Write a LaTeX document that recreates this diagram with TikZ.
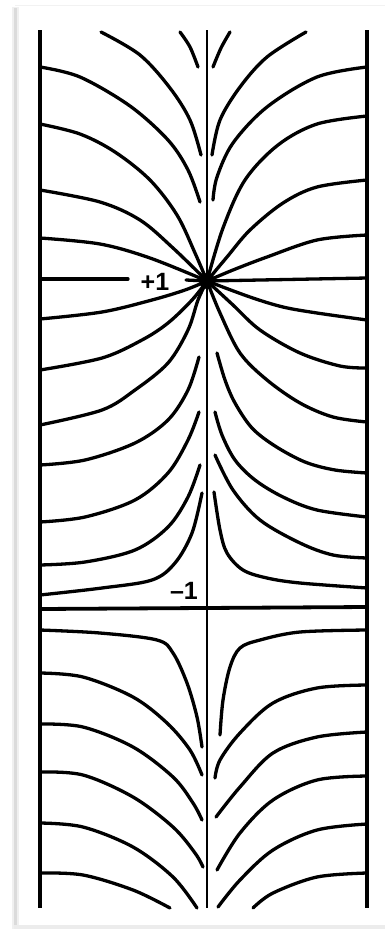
\documentclass[tikz,border=0pt]{standalone}
\usepackage{fontspec}
\setsansfont{Liberation Sans}
\begin{document}
\begin{tikzpicture}[x=1pt,y=-1pt,
  fl/.style={line width=3.3pt, line cap=round, line join=round},
  frame/.style={line width=3.4pt},
  axis/.style={line width=2.6pt},
  lab/.style={font=\sffamily\bfseries\fontsize{25}{25}\selectfont, inner sep=0pt, anchor=base}]
\useasboundingbox (0,0) rectangle (385,930);
\fill[white] (0,0) rectangle (385,930);
% page shadow
\fill[gray!12] (12,7) rectangle (19,929);
\fill[gray!28] (14,8) rectangle (17,928);
\fill[gray!15] (14,925) rectangle (385,929);
\draw[gray!10, line width=0.6pt] (15,5) -- (385,5);
% frame
\draw[frame] (40,30) -- (40,908);
\draw[frame] (367,30) -- (367,908);
\draw[axis] (207,30) -- (207,908);
\coordinate (q) at (207,281);
% horizontal line through +1
\draw[fl] (40,279) -- (128,279);
\draw[fl] (186,280) -- (q);
\draw[fl] (q) -- (367,278);
% -1 line
\draw[line width=3.8pt] (40,609) -- (367,607);
\node[lab] (p1) at (155,290) {+1};
\node[lab] (m1) at (184,599) {\char"2013 1};
% top-left
\draw[fl] plot[smooth,tension=0.55] coordinates {(101,32) (140,55) (170,88) (190,120) (201,155)};
\draw[fl] plot[smooth,tension=0.55] coordinates {(180,32) (190,47) (198,67)};
\draw[fl] plot[smooth,tension=0.55] coordinates {(40,67) (80,77) (130,106) (168,140) (188,170) (200,202)};
\draw[fl] plot[smooth,tension=0.55] coordinates {(40,124) (80,134) (115,152) (150,180) (177,215) (195,253) (207,281)};
\draw[fl] plot[smooth,tension=0.55] coordinates {(40,190) (100,202) (140,220) (173,248) (207,281)};
\draw[fl] plot[smooth,tension=0.55] coordinates {(40,238) (100,244) (150,258) (207,281)};
% top-right
\draw[fl] plot[smooth,tension=0.55] coordinates {(230,32) (221,48) (213,67)};
\draw[fl] plot[smooth,tension=0.55] coordinates {(306,32) (267,57) (240,87) (220,120) (212,155)};
\draw[fl] plot[smooth,tension=0.55] coordinates {(367,67) (317,77) (267,107) (233,143) (217,177) (213,200)};
\draw[fl] plot[smooth,tension=0.55] coordinates {(367,116) (317,124) (278,145) (245,180) (223,228) (207,281)};
\draw[fl] plot[smooth,tension=0.55] coordinates {(367,180) (317,187) (283,203) (250,230) (227,257) (207,281)};
\draw[fl] plot[smooth,tension=0.55] coordinates {(367,235) (317,240) (267,257) (233,270) (207,281)};
% middle-left
\draw[fl] plot[smooth,tension=0.55] coordinates {(40,319) (102,312) (152,300) (185,290) (207,281)};
\draw[fl] plot[smooth,tension=0.55] coordinates {(40,370) (102,358) (142,340) (168,323) (192,300) (207,281)};
\draw[fl] plot[smooth,tension=0.55] coordinates {(40,425) (102,410) (135,390) (168,363) (188,330) (198,300) (207,281)};
\draw[fl] plot[smooth,tension=0.55] coordinates {(40,465) (85,460) (135,443) (168,420) (188,390) (199,357)};
\draw[fl] plot[smooth,tension=0.55] coordinates {(40,522) (85,517) (135,500) (168,473) (188,440) (199,412)};
\draw[fl] plot[smooth,tension=0.55] coordinates {(40,565) (85,562) (135,550) (168,527) (188,497) (200,465)};
\draw[fl] plot[smooth,tension=0.55] coordinates {(40,595) (102,588) (152,580) (175,563) (192,533) (202,493)};
% middle-right
\draw[fl] plot[smooth,tension=0.55] coordinates {(207,281) (250,297) (283,307) (317,313) (367,320)};
\draw[fl] plot[smooth,tension=0.55] coordinates {(207,281) (233,305) (260,330) (300,353) (340,366) (367,368)};
\draw[fl] plot[smooth,tension=0.55] coordinates {(207,281) (220,313) (240,353) (267,380) (300,403) (333,417) (367,422)};
\draw[fl] plot[smooth,tension=0.55] coordinates {(217,353) (225,380) (235,403) (252,428) (275,446) (305,462) (335,470) (367,473)};
\draw[fl] plot[smooth,tension=0.55] coordinates {(215,412) (222,435) (235,460) (255,480) (283,497) (317,510) (367,517)};
\draw[fl] plot[smooth,tension=0.55] coordinates {(215,455) (233,490) (260,520) (300,543) (333,555) (367,558)};
\draw[fl] plot[smooth,tension=0.55] coordinates {(214,492) (220,530) (227,553) (243,570) (267,578) (300,583) (367,588)};
% bottom-left
\draw[fl] plot[smooth,tension=0.55] coordinates {(40,630) (100,633) (157,640) (173,653) (187,683) (197,717) (202,747)};
\draw[fl] plot[smooth,tension=0.55] coordinates {(40,673) (83,677) (133,697) (167,723) (190,750) (202,775)};
\draw[fl] plot[smooth,tension=0.55] coordinates {(40,724) (83,727) (133,747) (173,777) (193,803) (202,820)};
\draw[fl] plot[smooth,tension=0.55] coordinates {(40,772) (83,775) (133,797) (173,827) (195,853) (203,867)};
\draw[fl] plot[smooth,tension=0.55] coordinates {(40,823) (83,827) (133,847) (173,877) (197,908)};
\draw[fl] plot[smooth,tension=0.55] coordinates {(40,873) (83,875) (133,890) (170,908)};
% bottom-right
\draw[fl] plot[smooth,tension=0.55] coordinates {(367,630) (300,632) (260,640) (240,648) (230,667) (223,700) (220,735)};
\draw[fl] plot[smooth,tension=0.55] coordinates {(367,685) (317,688) (273,703) (240,733) (220,760) (215,778)};
\draw[fl] plot[smooth,tension=0.55] coordinates {(367,732) (317,737) (273,753) (240,787) (216,817)};
\draw[fl] plot[smooth,tension=0.55] coordinates {(367,776) (317,780) (273,800) (240,833) (217,870)};
\draw[fl] plot[smooth,tension=0.55] coordinates {(367,824) (317,830) (273,850) (240,880) (218,907)};
\draw[fl] plot[smooth,tension=0.55] coordinates {(367,873) (317,877) (273,893) (253,908)};
% charge
\fill (q) circle (8);
\end{tikzpicture}
\end{document}
